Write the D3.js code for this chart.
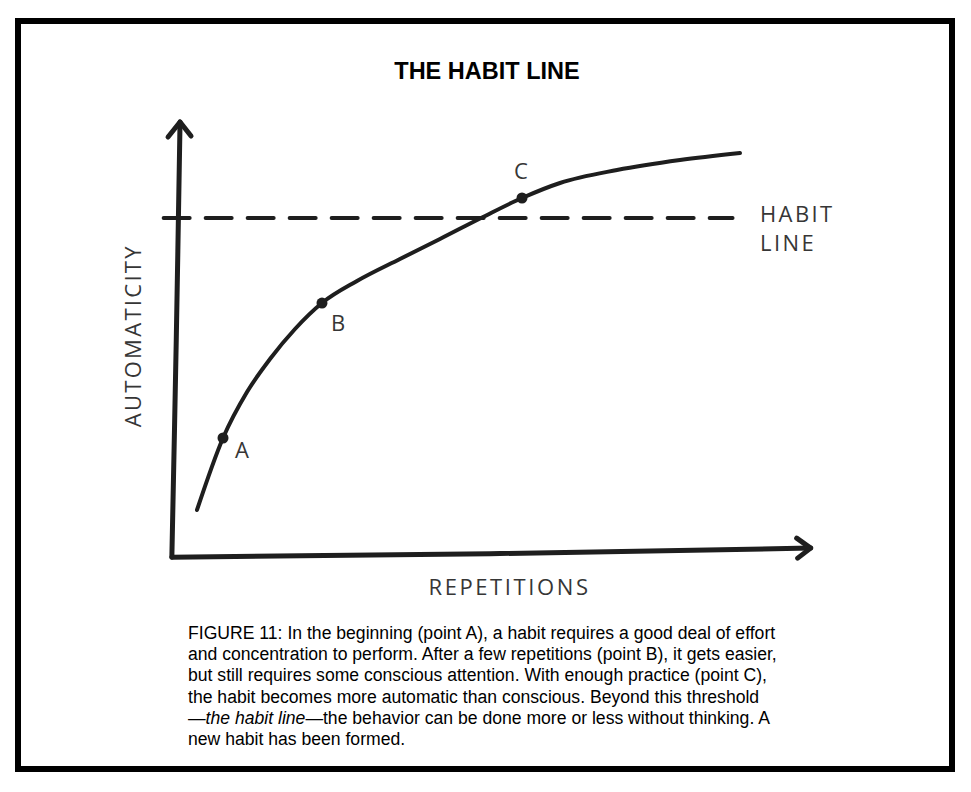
<!DOCTYPE html>
<html>
<head>
<meta charset="utf-8">
<script src="https://cdn.jsdelivr.net/npm/d3@7"></script>
<style>
  html, body { margin: 0; padding: 0; background: #fff; }
  svg { display: block; }
</style>
</head>
<body>
<svg id="chart" width="971" height="792"></svg>
<script>
// ---- data (domain units: repetitions 0-100, automaticity 0-100) ----
const curveX = [3.49, 7.62, 11.43, 15.08, 19.05, 23.33, 28.89, 35.71, 42.06, 48.89, 55.08, 61.11, 70.16, 80.16, 89.68];
const curveY = [10.47, 27.21, 37.91, 45.58, 52.56, 58.6, 63.72, 68.84, 73.49, 78.6, 83.02, 86.51, 89.53, 91.86, 93.49];
const pointLabels = ["A", "B", "C"];
const pointX = [7.62, 23.33, 55.08];
const pointY = [27.21, 58.6, 83.02];
const habitLevel = 78.4;
const habitRange = [-1.8, 88.5];
const habitLabel = ["HABIT", "LINE"];
const title = "THE HABIT LINE";
const xLabel = "REPETITIONS";
const yLabel = "AUTOMATICITY";
const caption = [
  [{t: "FIGURE 11: In the beginning (point A), a habit requires a good deal of effort"}],
  [{t: "and concentration to perform. After a few repetitions (point B), it gets easier,"}],
  [{t: "but still requires some conscious attention. With enough practice (point C),"}],
  [{t: "the habit becomes more automatic than conscious. Beyond this threshold"}],
  [{t: "\u2014"}, {t: "the habit line", i: true}, {t: "\u2014the behavior can be done more or less without thinking. A"}],
  [{t: "new habit has been formed."}]
];

const svg = d3.select("#chart");
const ink = "#1e1e1e";
const labelFont = "Open Sans, sans-serif";
const labelColor = "#363636";

// frame
svg.append("rect").attr("x", 18).attr("y", 21).attr("width", 934).attr("height", 748)
  .attr("fill", "#fff").attr("stroke", "#000").attr("stroke-width", 6);

const x = d3.scaleLinear().domain([0, 100]).range([175, 805]);
const y = d3.scaleLinear().domain([0, 100]).range([555, 125]);

// title
svg.append("text").attr("x", 487).attr("y", 79).attr("text-anchor", "middle")
  .attr("font-family", "Liberation Sans, Arial, sans-serif").attr("font-weight", "bold")
  .attr("font-size", 23.5).attr("fill", "#000").text(title);

// axes (hand-drawn, slightly tilted)
const line = d3.line().x(d => x(d[0])).y(d => y(d[1]));
const yAxisPts = [[-0.5, -0.5], [0.2, 50], [0.8, 100.7]];
const xAxisPts = [[-0.5, -0.5], [50, 0.3], [100.9, 1.6]];
svg.append("path").attr("d", d3.line().x(d => x(d[0])).y(d => y(d[1])).curve(d3.curveCatmullRom)(yAxisPts))
  .attr("fill", "none").attr("stroke", ink).attr("stroke-width", 5).attr("stroke-linecap", "round");
svg.append("path").attr("d", line(xAxisPts))
  .attr("fill", "none").attr("stroke", ink).attr("stroke-width", 5).attr("stroke-linecap", "round");
// arrow heads
const yTip = yAxisPts[2], xTip = xAxisPts[2];
svg.append("path")
  .attr("d", `M${x(yTip[0]) - 12},${y(yTip[1]) + 15} L${x(yTip[0])},${y(yTip[1])} L${x(yTip[0]) + 11},${y(yTip[1]) + 14}`)
  .attr("fill", "none").attr("stroke", ink).attr("stroke-width", 5).attr("stroke-linecap", "round").attr("stroke-linejoin", "round");
svg.append("path")
  .attr("d", `M${x(xTip[0]) - 14},${y(xTip[1]) - 10} L${x(xTip[0])},${y(xTip[1])} L${x(xTip[0]) - 13},${y(xTip[1]) + 10}`)
  .attr("fill", "none").attr("stroke", ink).attr("stroke-width", 5).attr("stroke-linecap", "round").attr("stroke-linejoin", "round");

// habit line (dashed)
svg.append("line")
  .attr("x1", x(habitRange[0])).attr("x2", x(habitRange[1]))
  .attr("y1", y(habitLevel)).attr("y2", y(habitLevel))
  .attr("stroke", ink).attr("stroke-width", 4).attr("stroke-dasharray", "26,16").attr("stroke-linecap", "round");
svg.selectAll("text.habit").data(habitLabel).join("text").attr("class", "habit")
  .attr("x", 760).attr("y", (d, i) => y(habitLevel) + 4 + i * 29)
  .attr("font-family", labelFont).attr("letter-spacing", 2.4)
  .attr("font-size", 22).attr("fill", labelColor).text(d => d);

// curve
const curveData = curveX.map((v, i) => [v, curveY[i]]);
svg.append("path").attr("d", d3.line().x(d => x(d[0])).y(d => y(d[1])).curve(d3.curveMonotoneX)(curveData))
  .attr("fill", "none").attr("stroke", ink).attr("stroke-width", 4).attr("stroke-linecap", "round");

// points
const pts = pointLabels.map((l, i) => ({l, x: pointX[i], y: pointY[i]}));
svg.selectAll("circle.pt").data(pts).join("circle").attr("class", "pt")
  .attr("cx", d => x(d.x)).attr("cy", d => y(d.y)).attr("r", 5.5).attr("fill", ink);
const labelOffset = {A: [12, 20], B: [9, 28], C: [-8, -19]};
svg.selectAll("text.pt").data(pts).join("text").attr("class", "pt")
  .attr("x", d => x(d.x) + labelOffset[d.l][0]).attr("y", d => y(d.y) + labelOffset[d.l][1])
  .attr("font-family", labelFont)
  .attr("font-size", 22).attr("fill", labelColor).text(d => d.l);

// axis labels
svg.append("text").attr("x", x(53.1)).attr("y", 595).attr("text-anchor", "middle")
  .attr("font-family", labelFont).attr("letter-spacing", 2.6)
  .attr("font-size", 22).attr("fill", labelColor).text(xLabel);
svg.append("text").attr("transform", `translate(141,${y(51)}) rotate(-90)`).attr("text-anchor", "middle")
  .attr("font-family", labelFont).attr("letter-spacing", 2.3)
  .attr("font-size", 22).attr("fill", labelColor).text(yLabel);

// caption
const cap = svg.append("text").attr("font-family", "Liberation Sans, Arial, sans-serif")
  .attr("font-size", 17.6).attr("fill", "#000");
caption.forEach((parts, i) => {
  parts.forEach((p, j) => {
    const ts = cap.append("tspan").text(p.t);
    if (j === 0) ts.attr("x", 188).attr("y", 639 + i * 21.2);
    if (p.i) ts.attr("font-style", "italic");
  });
});
</script>
</body>
</html>
